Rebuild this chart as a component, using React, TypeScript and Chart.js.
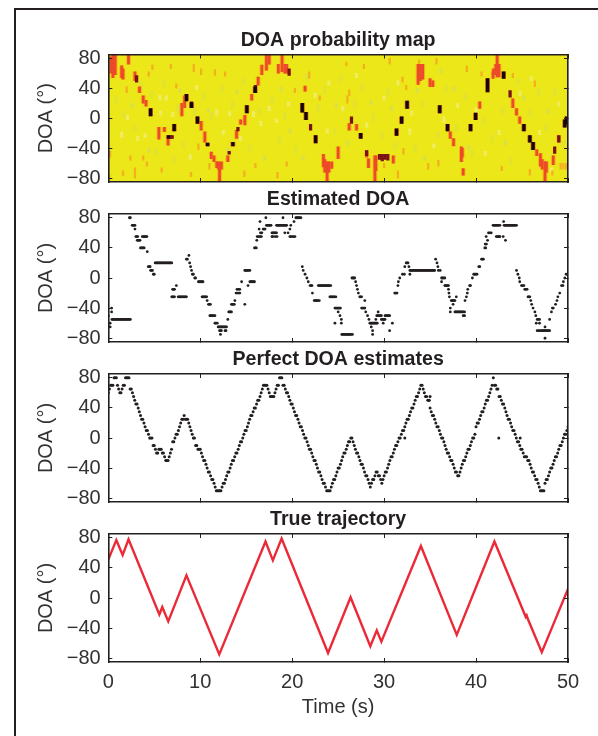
import React, { useEffect, useRef } from "react";
import { Chart, registerables } from "chart.js";

Chart.register(...registerables);

const xTicks = [0, 10, 20, 30, 40, 50];
const yTicks = [-80, -40, 0, 40, 80];
const titles = ["DOA probability map", "Estimated DOA", "Perfect DOA estimates", "True trajectory"];

// ---- True trajectory vertices
const trueT = [0, 0.87, 1.56, 2.2, 5.55, 5.87, 6.52, 8.5, 12.07, 17.1, 17.9, 18.85, 23.9, 26.35, 28.5, 29.2, 29.7, 34.0, 37.9, 42.0, 45.4, 45.5, 45.6, 47.15, 50];
const trueDoa = [51, 77, 57, 78, -22, -12, -31, 30, -75, 75, 50, 79, -73, 1, -64, -43, -58, 69, -49, 75, -25, -23, -27, -72, 12];

// ---- Perfect estimates, 8 per second
const perfectStep = 0.125;
const perfectDoa = [
  60, 65, 70, 70, 70, 80, 80, 80,
  70, 65, 60, 60, 65, 70, 70, 80,
  80, 80, 80, 65, 65, 60, 55, 50,
  45, 45, 40, 35, 30, 25, 25, 20,
  15, 10, 10, 5, 0, 0, 0, -10,
  -10, -15, -20, -20, -15, -15, -15, -20,
  -20, -25, -30, -30, -30, -25, -20, -15,
  -5, -5, 0, 5, 5, 10, 15, 20,
  25, 25, 30, 25, 25, 25, 20, 15,
  10, 5, 0, 0, -10, -10, -15, -15,
  -15, -20, -25, -30, -30, -35, -40, -45,
  -45, -50, -55, -55, -60, -65, -70, -70,
  -70, -70, -70, -65, -60, -60, -55, -50,
  -45, -45, -40, -35, -30, -30, -25, -20,
  -20, -15, -10, -5, -5, 0, 5, 10,
  10, 15, 20, 25, 30, 30, 35, 40,
  40, 45, 50, 50, 55, 60, 65, 70,
  70, 70, 70, 65, 60, 55, 55, 55,
  55, 60, 65, 70, 70, 80, 80, 80,
  70, 70, 65, 60, 60, 55, 50, 45,
  45, 40, 35, 30, 30, 25, 20, 15,
  15, 10, 5, 0, 0, -5, -10, -15,
  -15, -20, -25, -30, -30, -35, -40, -45,
  -45, -50, -55, -60, -60, -65, -70, -70,
  -70, -70, -65, -60, -55, -55, -50, -45,
  -40, -40, -35, -30, -25, -20, -20, -15,
  -10, -5, -5, 0, 0, -5, -10, -15,
  -20, -20, -25, -30, -35, -35, -40, -45,
  -50, -50, -55, -60, -65, -60, -55, -55,
  -50, -45, -45, -50, -50, -55, -60, -55,
  -50, -45, -45, -40, -35, -30, -25, -25,
  -20, -15, -10, -10, -5, 0, 0, 5,
  10, 10, 15, 20, 25, 25, 30, 35,
  40, 40, 45, 50, 55, 55, 60, 65,
  70, 70, 65, 60, 55, 55, 50, 50,
  40, 35, 30, 30, 25, 20, 15, 15,
  10, 5, 0, 0, -5, -10, -15, -20,
  -20, -25, -30, -30, -35, -40, -45, -45,
  -50, -50, -45, -40, -35, -30, -30, -25,
  -20, -15, -15, -10, -5, 0, 0, 5,
  15, 20, 20, 25, 30, 35, 35, 40,
  45, 50, 50, 55, 60, 65, 70, 80,
  70, 70, 65, 65, 55, 55, 50, 45,
  45, 40, 35, 30, 25, 25, 20, 15,
  10, 10, 5, 0, -5, -5, -10, -15,
  -15, -20, -25, -25, -25, -30, -30, -35,
  -40, -45, -45, -50, -55, -55, -60, -65,
  -70, -70, -70, -70, -60, -55, -55, -50,
  -45, -40, -40, -35, -30, -25, -25, -20,
  -15, -10, -10, -5, 0, 5, 5, 10,
  15,
];
const perfectOutlierT = [32.25, 34.9, 35.0, 42.47, 44.8];
const perfectOutlierDoa = [0, 50, 55, 0, 0];

// ---- Estimated DOA: times at which each level was picked
const estP80 = [2.3, 2.4, 17.14, 19.0, 20.4, 20.5, 20.6, 20.7, 20.8, 20.95];
const estP75 = [16.5, 20.2, 43.0];
const estP70 = [2.6, 2.7, 2.8, 2.9, 17.2, 17.3, 17.4, 17.5, 17.6, 17.7, 18.3, 18.4, 18.5, 18.6, 18.7, 18.8, 18.9, 19.0, 19.1, 19.2, 19.3, 19.4, 19.85, 41.85, 41.95, 42.05, 42.15, 42.25, 42.35, 42.45, 42.6, 43.05, 43.15, 43.25, 43.35, 43.45, 43.55, 43.65, 43.75, 43.85, 43.95, 44.05, 44.15, 44.25, 44.4];
const estP65 = [2.9, 16.4, 16.85, 16.95, 17.05, 19.75];
const estP60 = [16.55, 16.7, 17.8, 17.9, 18.0, 18.1, 18.2, 18.3, 19.2, 19.55, 41.35, 41.5, 41.65];
const estP55 = [3.0, 3.1, 3.2, 3.7, 3.8, 3.9, 4.0, 4.1, 4.2, 16.2, 16.35, 16.5, 16.65, 17.8, 17.9, 18.15, 18.35, 19.75, 19.85, 20.0, 20.15, 20.3, 41.1, 42.2, 42.3, 42.4, 42.5, 42.6, 42.95];
const estP50 = [3.15, 3.25, 3.35, 3.45, 16.15, 41.25, 43.2];
const estP45 = [41.13, 41.0];
const estP40 = [3.5, 3.6, 3.7, 3.8, 3.9, 15.9, 16.0, 16.1, 40.95, 41.05];
const estP35 = [4.24];
const estP30 = [8.77];
const estP25 = [8.5, 8.6, 35.6, 40.6, 40.7, 40.8];
const estP20 = [5.1, 5.2, 5.3, 5.4, 5.5, 5.6, 5.7, 5.8, 5.9, 6.0, 6.1, 6.2, 6.3, 6.4, 6.5, 6.6, 6.7, 6.8, 6.9, 8.85, 32.4, 32.5, 32.6, 35.75];
const estP15 = [4.35, 4.45, 4.55, 8.95, 21.1, 32.25, 32.7, 35.85, 40.3, 40.4];
const estP10 = [4.6, 4.7, 4.8, 9.05, 14.85, 14.95, 15.05, 15.15, 15.25, 15.4, 21.2, 32.8, 32.9, 33.0, 33.1, 33.2, 33.3, 33.4, 33.5, 33.6, 33.7, 33.8, 33.9, 34.0, 34.1, 34.2, 34.3, 34.4, 34.5, 34.6, 34.7, 34.8, 34.9, 35.0, 35.1, 35.2, 35.3, 35.4, 35.5, 35.9, 36.1, 44.4];
const estP5 = [4.9, 5.0, 9.15, 9.25, 21.4, 32.0, 32.2, 32.8, 39.75, 39.85, 39.95, 40.1, 44.55, 49.8, 49.95];
const estZ0 = [9.4, 9.5, 21.6, 26.5, 26.6, 26.7, 26.8, 31.7, 36.25, 36.35, 36.45, 36.6, 39.6, 44.7, 49.65];
const estM5 = [9.8, 9.9, 10.0, 10.1, 10.2, 10.3, 14.5, 15.4, 15.5, 15.6, 15.7, 15.8, 15.9, 21.75, 26.9, 31.55, 36.25, 44.75, 49.5];
const estM10 = [7.4, 15.2, 21.95, 22.05, 22.15, 22.85, 22.95, 23.05, 23.15, 23.25, 23.35, 23.45, 23.55, 23.65, 23.75, 23.85, 23.95, 24.05, 24.2, 27.0, 31.5, 36.6, 36.7, 36.8, 36.9, 37.0, 39.3, 39.4, 44.95, 45.05, 45.2, 49.3, 49.45];
const estM15 = [7.0, 7.1, 7.2, 14.0, 14.15, 14.3, 27.1, 37.0, 39.1, 45.3, 45.4, 45.55];
const estM20 = [13.9, 14.1, 14.3, 22.2, 27.2, 31.15, 31.25, 31.4, 37.05, 39.05, 49.1];
const estM25 = [6.9, 7.0, 7.1, 7.2, 7.6, 7.7, 7.8, 7.9, 8.0, 8.1, 8.2, 8.3, 8.4, 8.5, 10.2, 10.3, 10.4, 10.5, 10.6, 10.7, 24.1, 24.2, 24.3, 24.4, 24.5, 24.6, 24.75, 27.35, 27.45, 27.55, 37.1, 37.85, 38.95, 45.65, 45.75, 45.85, 48.9];
const estM30 = [10.75, 13.77, 22.4, 22.5, 22.6, 22.7, 22.8, 22.95, 27.9, 37.3, 37.4, 37.5, 37.6, 37.7, 38.8, 45.95, 48.8];
const estM35 = [10.9, 11.0, 11.1, 13.4, 13.5, 13.6, 13.7, 14.85, 37.5, 46.05, 48.65];
const estM40 = [0.36, 24.65, 24.75, 24.85, 24.95, 25.05, 25.15, 25.25, 27.55, 27.65, 27.8, 27.9, 37.2, 46.2, 48.3, 48.4];
const estM45 = [0.36, 13.1, 13.2, 13.3, 13.4, 25.0, 28.0, 29.35, 37.2, 37.7, 37.8, 37.9, 38.0, 38.1, 38.2, 38.3, 38.4, 38.5, 38.6, 38.75, 46.4, 48.2];
const estM50 = [0, 11.05, 11.15, 11.25, 11.35, 11.45, 11.6, 25.2, 28.2, 29.2, 29.3, 29.4, 29.5, 29.6, 29.7, 30.1, 30.2, 30.3, 30.4, 30.5, 30.6, 38.6, 38.75, 46.5];
const estM55 = [0.4, 0.5, 0.6, 0.7, 0.8, 0.9, 1.0, 1.1, 1.2, 1.3, 1.4, 1.5, 1.6, 1.7, 1.8, 1.9, 2.0, 2.1, 2.2, 2.3, 2.4, 13.0, 25.35, 28.35, 29.1, 29.7, 29.8, 29.9, 30.0, 30.1, 46.65, 46.75, 46.9, 48.0];
const estM60 = [0.2, 11.6, 11.7, 11.85, 24.65, 25.35, 28.45, 28.55, 28.65, 28.75, 28.85, 28.95, 29.05, 29.15, 29.25, 29.9, 30.9, 46.55, 46.9];
const estM65 = [0.2, 11.95, 12.05, 12.15, 12.25, 12.35, 12.45, 12.55, 12.65, 12.75, 12.86, 28.6, 47.5];
const estM70 = [12.1, 12.2, 12.3, 12.7, 12.8, 28.75, 30.6, 46.65, 46.8, 46.95, 47.1, 47.2, 47.3, 47.4, 47.5, 47.6, 47.7, 47.8, 47.9, 48.0];
const estM75 = [12.2, 25.4, 25.5, 25.6, 25.7, 25.8, 25.9, 26.0, 26.1, 26.2, 26.3, 26.4, 26.55, 28.75];
const estM80 = [47.5];

const estimatedLevels: [number, number[]][] = [
  [80, estP80], [75, estP75], [70, estP70], [65, estP65], [60, estP60], [55, estP55], [50, estP50],
  [45, estP45], [40, estP40], [35, estP35], [30, estP30], [25, estP25], [20, estP20], [15, estP15],
  [10, estP10], [5, estP5], [0, estZ0], [-5, estM5], [-10, estM10], [-15, estM15], [-20, estM20],
  [-25, estM25], [-30, estM30], [-35, estM35], [-40, estM40], [-45, estM45], [-50, estM50],
  [-55, estM55], [-60, estM60], [-65, estM65], [-70, estM70], [-75, estM75], [-80, estM80],
];

// ---- Probability map cells: [time, top DOA, bottom DOA]
type Cell = [number, number, number];
const softCells: Cell[] = [
  [0.8, 30, 20], [1.7, 10, 0], [2.9, -8, -18], [3.6, 48, 38], [4.7, 36, 28], [5.2, -40, -50], [6.0, 52, 42], [7.1, -50, -60], [7.6, 18, 8], [8.2, -30, -40], [9.4, 14, 4], [10.4, 34, 24], [11.2, 8, -2], [12.4, 44, 34], [13.5, 24, 14], [14.7, 54, 44], [15.4, -36, -46], [16.4, 14, 4], [17.8, 30, 20], [18.6, -24, -34], [19.2, 8, -2], [20.4, -38, -48],
  [21.6, 60, 50], [22.8, 18, 8], [23.5, 42, 32], [24.6, -12, -22], [25.3, 58, 48], [26.8, 24, 14], [27.6, 46, 36], [28.8, 6, -4], [29.8, -18, -28], [30.4, 40, 30], [31.2, -32, -42], [33.4, -36, -46], [34.2, 24, 14], [35.8, -18, -28], [36.8, 44, 34], [37.9, -8, -18], [38.8, 34, 24], [39.6, -42, -52], [40.8, 2, -8], [41.8, -22, -32], [42.9, 16, 6], [43.8, -52, -62], [44.6, 54, 44], [45.9, 12, 2], [46.8, 40, 30], [47.6, -8, -18], [48.6, 40, 30], [49.5, -30, -40],
];
const paleCells: Cell[] = [
  [1.45, -18, -26], [3.2, -24, -30], [5.6, 31, 24], [6.3, 30, 24], [5.7, 10, 4], [4.0, -20, -26], [2.1, 4, -2], [7.0, 8, 2], [8.9, -48, -55], [11.8, 12, 4], [13.2, 9, 3], [15.8, 9, 2], [18.3, 0, -6], [14.4, -24, -30], [17.5, 16, 10], [16.6, -4, -10], [19.6, 22, 16], [12.5, -16, -22], [9.6, 44, 38],
  [22.5, 34, 27], [25.5, 16, 10], [28.1, -6, -12], [30.0, 30, 24], [32.8, -14, -22], [36.5, 2, -6], [33.0, 10, 4], [40.0, 14, 6], [42.5, -16, -22], [46.9, -16, -22], [49.0, 22, 16], [44.8, 36, 30], [38.0, 20, 14], [24.0, 50, 44], [35.4, -34, -40], [31.5, 50, 44], [27.0, 60, 54], [41.0, -44, -50], [46.0, 56, 50], [48.2, -66, -72], [23.8, -14, -20],
];
const greenCells: Cell[] = [
  [2.6, 20, 14], [7.8, 40, 34], [10.9, 14, 8], [14.0, 38, 32], [19.8, -14, -20], [24.8, 20, 14], [26.0, -30, -36], [30.8, 16, 10], [34.4, -50, -56], [37.6, 42, 36], [39.2, -36, -42], [43.2, -30, -36], [45.2, 30, 24], [47.8, 12, 6], [21.2, -50, -56], [13.0, -40, -46], [17.0, -50, -56], [4.4, -40, -46], [18.8, 42, 36], [28.6, 24, 18], [33.6, 40, 34], [36.2, 66, 60],
];
const orangeCells: Cell[] = [
  [2.4, -50, -56], [0.2, -44, -52], [1.6, -70, -77], [3.8, -50, -56], [4.2, -58, -64], [9.8, -34, -42], [10.1, 66, 58], [11.6, 65, 57], [12.7, 62, 56], [9.3, 72, 62], [2.0, 42, 34], [4.4, 62, 56], [6.8, 72, 66], [7.4, 46, 40], [19.4, -58, -64], [16.0, -60, -66], [14.8, -70, -78], [11.0, -60, -68], [18.4, -72, -80], [9.0, -72, -78], [5.8, -66, -72], [2.9, -66, -80], [0.1, -76, -82], [4.8, 71, 65], [20.3, 40, 34],
  [21.85, 62, 53], [21.4, 43, 36], [23.0, 30, 24], [26.2, 38, 30], [26.0, 30, 20], [27.8, 72, 66], [30.0, -60, -66], [32.0, 55, 48], [32.4, 44, 38], [32.1, -40, -48], [35.9, -56, -64], [35.7, 80, 72], [38.6, -68, -76], [39.0, 70, 62], [40.6, 62, 56], [44.0, 60, 54], [45.85, -68, -76], [46.4, 50, 42], [49.5, -60, -68], [49.8, -60, -68], [49.95, -60, -68], [49.2, -60, -68], [48.3, -70, -76], [34.8, -60, -68], [42.8, -64, -70], [31.5, -70, -80], [30.6, 80, 72], [25.9, 75, 70], [33.8, 78, 68],
];
const redCells: Cell[] = [
  [0.3, 82, 60], [0.5, 85, 54], [0.75, 84, 58], [1.45, 70, 54], [1.6, 66, 52], [2.2, 85, 72], [2.9, 62, 50], [3.4, 42, 34], [3.8, 30, 20], [4.1, 24, 16], [5.5, -12, -28], [6.1, -12, -18], [6.5, -23, -36], [8.0, 20, 3], [8.3, 30, 14], [10.5, -18, -32], [10.1, -4, -16], [11.2, -45, -54], [11.5, -50, -58], [11.8, -58, -66], [12.0, -58, -68], [12.3, -58, -68], [12.1, -68, -85], [13.0, -50, -58], [13.95, -16, -27], [14.85, 4, -9], [16.3, 55, 44], [16.7, 71, 58], [17.2, 85, 64], [17.5, 85, 72], [18.5, 72, 60], [18.9, 85, 62], [19.2, 72, 60], [19.4, 72, 60], [14.4, -2, -8], [15.6, 32, 24],
  [21.4, 43, 36], [23.4, -48, -65], [23.55, -55, -72], [23.8, -58, -85], [24.0, -58, -72], [24.3, -58, -67], [25.0, -38, -54], [26.2, -7, -16], [27.0, -8, -16], [28.3, -54, -66], [28.1, -43, -52], [29.0, -50, -85], [29.1, -50, -70], [31.0, -50, -60], [33.7, 72, 45], [33.95, 72, 50], [34.2, 72, 52], [35.0, 53, 42], [35.3, 50, 42], [37.2, -18, -27], [37.55, -27, -37], [38.4, -38, -58], [38.5, -40, -52], [38.6, -67, -76], [40.4, 22, 13], [41.85, 62, 53], [42.3, 85, 55], [42.15, 72, 58], [42.5, 72, 55], [44.4, 13, 4], [44.75, 2, -7], [44.0, 26, 14], [47.0, -47, -64], [47.2, -55, -68], [47.5, -58, -85], [47.65, -58, -72], [48.4, -50, -62], [49.0, -23, -32], [41.9, 66, 58], [46.6, -42, -50],
];
const darkCells: Cell[] = [
  [3.08, 57, 48], [6.8, -23, -27], [6.95, -23, -27], [14.1, -12, -17], [13.15, -44, -48], [19.67, 66, 57], [22.0, -8, -16], [26.45, 2, -7], [28.1, -43, -50], [29.5, -48, -55], [29.8, -48, -57], [30.1, -48, -55], [30.4, -48, -56], [43.7, 37, 28], [48.55, -38, -47], [49.0, -23, -32], [9.05, 22, 14], [16.0, 44, 34],
];
const blackCells: Cell[] = [
  [4.6, 13, 3], [7.17, -8, -17], [6.55, -23, -27], [8.5, 32, 23], [9.05, 21, 14], [9.7, 2, -7], [10.8, -33, -37], [13.55, -32, -37], [15.07, 17, 7], [15.97, 42, 34],
  [21.1, 20, 8], [21.5, 8, -2], [22.55, -23, -33], [27.45, -20, -27], [31.35, -14, -23], [31.9, 2, -7], [32.5, 23, 13], [36.05, 17, 7], [36.9, -8, -17], [39.4, -8, -17], [39.95, 7, -2], [41.25, 53, 35], [43.0, 62, 53], [45.2, -8, -17], [45.85, -23, -32], [46.2, -32, -42], [49.65, -2, -12], [49.85, 2, -8],
];

const INK = "#231f20";
const TEXT = "#333132";
const FONT = '"Liberation Sans", Arial, sans-serif';
const formatTick = (v: number) => (v < 0 ? `\u2212${-v}` : String(v));

const cellData = (cells: Cell[]) => cells.map(([x, a, b]) => ({ x, y: [b, a] }));
const cellSet = (cells: Cell[], color: string, thickness: number) => ({
  type: "bar",
  data: cellData(cells),
  backgroundColor: color,
  borderWidth: 0,
  barThickness: thickness,
  grouped: false,
});

const dotSet = (data: { x: number; y: number }[], radius: number) => ({
  type: "scatter",
  data,
  backgroundColor: INK,
  borderWidth: 0,
  pointRadius: radius,
  showLine: false,
});

const perfectPoints = [
  ...perfectDoa.map((y, i) => ({ x: i * perfectStep, y })),
  ...perfectOutlierT.map((x, i) => ({ x, y: perfectOutlierDoa[i] })),
];
const estimatedPoints = estimatedLevels.flatMap(([y, ts]) => ts.map((x) => ({ x, y })));
const truePoints = trueT.map((x, i) => ({ x, y: trueDoa[i] }));

// Chart.js paints the first dataset last, so the hottest cells come first.
const panelDatasets: any[][] = [
  [
    cellSet(blackCells, "#14070a", 2.6),
    cellSet(darkCells, "#7a1216", 2.6),
    cellSet(redCells, "#ec4a28", 2),
    cellSet(blackCells, "rgba(190,40,30,0.75)", 4),
    cellSet(redCells, "rgba(246,150,30,0.6)", 4),
    cellSet(orangeCells, "#f4b01e", 1.6),
    cellSet(greenCells, "#d9e045", 2.4),
    cellSet(paleCells, "#efec62", 2.4),
    cellSet(softCells, "#e3e32e", 3),
  ],
  [dotSet(estimatedPoints, 1.4)],
  [dotSet(perfectPoints, 1.5)],
  [{ type: "scatter", data: truePoints, showLine: true, borderColor: "#ec2a37", borderWidth: 2.4, pointRadius: 0, fill: false }],
];

const CANVAS_TOPS = [30, 190, 350, 510];
const TOP_PAD = [0.5, 0, 0, 0];
const PLOT_HEIGHT = 127.7;
const PLOT_LEFT = 108.3;
const RIGHT_PAD = 30;
const TITLE_H = 20;
const TITLE_GAP = 4;
const bottomSpaceOf = (i: number) => (i === 3 ? 57 : 30);

const heatBackground = {
  id: "heatBackground",
  beforeDatasetsDraw(chart: any) {
    if (chart.canvas.dataset.heat !== "1") return;
    const { ctx, chartArea: a } = chart;
    ctx.save();
    ctx.fillStyle = "#ece718";
    ctx.fillRect(a.left, a.top, a.right - a.left, a.bottom - a.top);
    ctx.restore();
  },
};

function panelOptions(i: number) {
  const last = i === 3;
  const bottomSpace = bottomSpaceOf(i);
  const tickOpts = { tickLength: -4, tickColor: INK, tickWidth: 1, drawOnChartArea: false, z: 1 };
  const border = { display: true, color: INK, width: 1.6, z: 1 };
  const setX = (s: any) => { s.ticks = xTicks.map((value) => ({ value })); };
  const setY = (s: any) => { s.ticks = yTicks.map((value) => ({ value })); };
  return {
    animation: false,
    responsive: false,
    devicePixelRatio: 1,
    events: [],
    layout: { padding: { top: TOP_PAD[i], right: RIGHT_PAD, left: 0, bottom: 0 } },
    plugins: {
      legend: { display: false },
      tooltip: { enabled: false },
      title: {
        display: true,
        text: titles[i],
        color: "#231f20",
        fullSize: false,
        font: { family: FONT, size: 19.6, weight: "bold", lineHeight: TITLE_H / 19.6 },
        padding: { top: 0, bottom: TITLE_GAP },
      },
    },
    scales: {
      x: {
        type: "linear",
        position: "bottom",
        min: 0,
        max: 50,
        offset: false,
        afterBuildTicks: setX,
        afterFit: (s: any) => { s.height = bottomSpace; },
        grid: { ...tickOpts, offset: false },
        border,
        ticks: { display: last, color: TEXT, padding: 12, maxRotation: 0, autoSkip: false, font: { family: FONT, size: 20 } },
        title: last
          ? { display: true, text: "Time (s)", color: TEXT, font: { family: FONT, size: 20, lineHeight: 1.2 }, padding: 0 }
          : { display: false },
      },
      xTop: {
        type: "linear",
        axis: "x",
        position: "top",
        min: 0,
        max: 50,
        offset: false,
        afterBuildTicks: setX,
        afterFit: (s: any) => { s.height = 0; },
        grid: { ...tickOpts, offset: false },
        border,
        ticks: { display: false },
      },
      y: {
        type: "linear",
        position: "left",
        min: -85,
        max: 85,
        afterBuildTicks: setY,
        afterFit: (s: any) => { s.width = PLOT_LEFT; },
        grid: tickOpts,
        border,
        ticks: { color: TEXT, padding: 11.6, autoSkip: false, callback: (v: any) => formatTick(Number(v)), font: { family: FONT, size: 20 } },
        title: { display: true, text: "DOA (\u00b0)", color: TEXT, font: { family: FONT, size: 20, lineHeight: 1.2 }, padding: { top: 34.7, bottom: 0 } },
      },
      yRight: {
        type: "linear",
        axis: "y",
        position: "right",
        min: -85,
        max: 85,
        afterBuildTicks: setY,
        afterFit: (s: any) => { s.width = 0; },
        grid: tickOpts,
        border,
        ticks: { display: false },
      },
    },
  };
}

function Panel({ index }: { index: number }) {
  const ref = useRef<HTMLCanvasElement>(null);
  useEffect(() => {
    const chart = new Chart(ref.current as any, {
      data: { datasets: panelDatasets[index] },
      options: panelOptions(index) as any,
      plugins: [heatBackground],
    } as any);
    return () => chart.destroy();
  }, [index]);
  const height = Math.round(TITLE_H + TITLE_GAP + TOP_PAD[index] + PLOT_HEIGHT + bottomSpaceOf(index));
  return (
    <canvas
      ref={ref}
      data-heat={index === 0 ? "1" : "0"}
      width={598}
      height={height}
      style={{ position: "absolute", left: 0, top: CANVAS_TOPS[index], width: 598, height, display: "block" }}
    />
  );
}

export default function App() {
  return (
    <div style={{ position: "absolute", left: 0, top: 0, width: 598, height: 736, overflow: "hidden", background: "#fff" }}>
      <div
        style={{
          position: "absolute",
          left: 14,
          top: 8,
          right: 0,
          bottom: 0,
          borderLeft: `2px solid ${INK}`,
          borderTop: `2px solid ${INK}`,
        }}
      />
      {titles.map((_, i) => (
        <Panel key={i} index={i} />
      ))}
    </div>
  );
}
